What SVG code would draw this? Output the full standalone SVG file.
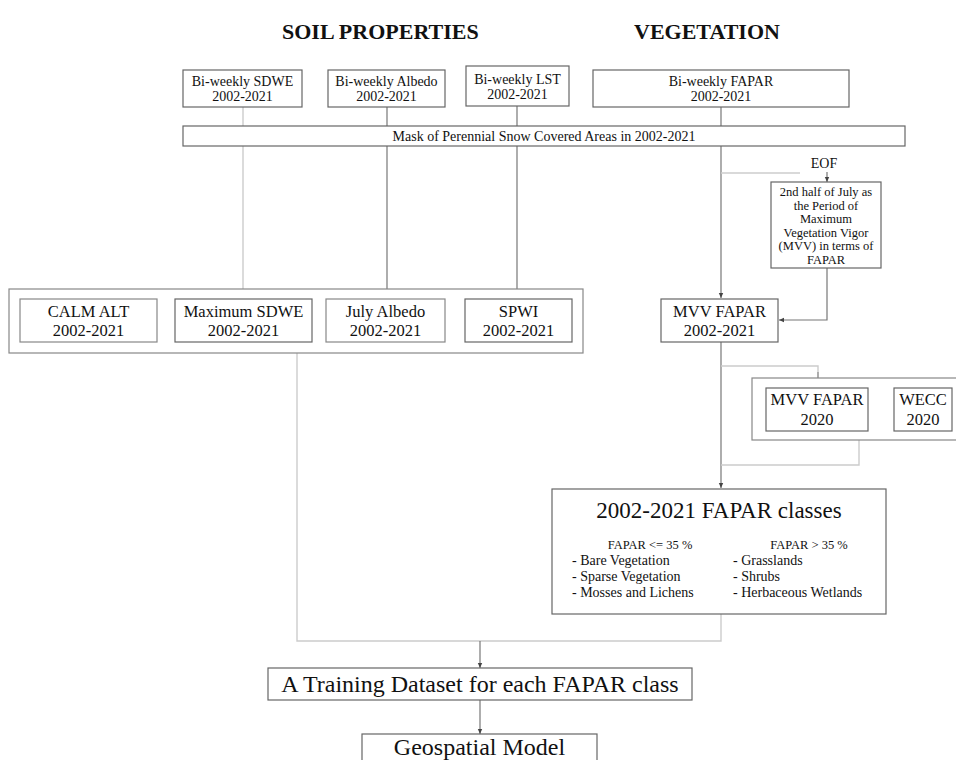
<svg xmlns="http://www.w3.org/2000/svg" width="956" height="760" viewBox="0 0 956 760">
<defs>
<style>
text{font-family:"Liberation Serif","Times New Roman",serif;fill:#111;}
.t{font-size:14px;text-anchor:middle;}
.m{font-size:16.5px;text-anchor:middle;}
.s{font-size:12.5px;text-anchor:middle;}
.h{font-size:22px;font-weight:bold;}
.b{fill:#fff;stroke:#666;stroke-width:1.2;}
.g{fill:#fff;stroke:#888;stroke-width:1.2;}
.d{fill:none;stroke:#777;stroke-width:1.2;}
.l{fill:none;stroke:#ccc;stroke-width:1.4;}
</style>
<marker id="a" markerWidth="6" markerHeight="6" refX="5" refY="3" orient="auto" markerUnits="userSpaceOnUse">
<path d="M0,0.8 L5,3 L0,5.2 Z" fill="#444"/>
</marker>
</defs>
<rect width="956" height="760" fill="#fff"/>
<text class="h" x="282" y="39">SOIL PROPERTIES</text>
<text class="h" x="634" y="39">VEGETATION</text>
<g id="connectors">
<line class="l" x1="243" y1="107" x2="243" y2="126"/>
<line class="d" x1="387" y1="107" x2="387" y2="126"/>
<line class="d" x1="517" y1="106" x2="517" y2="126"/>
<line class="d" x1="721" y1="107" x2="721" y2="126"/>
<line class="l" x1="243" y1="146" x2="243" y2="289"/>
<line class="d" x1="387" y1="146" x2="387" y2="289"/>
<line class="d" x1="517" y1="146" x2="517" y2="289"/>
<line class="d" x1="721" y1="146" x2="721" y2="298" marker-end="url(#a)"/>
<line class="l" x1="721" y1="173" x2="800" y2="173"/>
<line class="d" x1="827" y1="172" x2="827" y2="182" marker-end="url(#a)"/>
<polyline class="d" points="827,268 827,320 779,320" marker-end="url(#a)"/>
<line class="d" x1="721" y1="342" x2="721" y2="488" marker-end="url(#a)"/>
<polyline class="l" points="721,366 818,366 818,372"/>
<line class="d" x1="818" y1="372" x2="818" y2="388" marker-end="url(#a)"/>
<polyline class="l" points="859,440 859,465 721,465"/>
<polyline class="l" points="297,353 297,641 721,641 721,614"/>
<line class="d" x1="480" y1="641" x2="480" y2="668" marker-end="url(#a)"/>
<line class="d" x1="480" y1="700" x2="480" y2="734" marker-end="url(#a)"/>
</g>
<g id="n-sdwe"><rect class="b" x="183" y="70" width="119" height="37"/><text class="t" x="242.5" y="86">Bi-weekly SDWE</text><text class="t" x="242.5" y="101">2002-2021</text></g>
<g id="n-albedo"><rect class="b" x="328" y="70" width="117" height="37"/><text class="t" x="386.5" y="86">Bi-weekly Albedo</text><text class="t" x="386.5" y="101">2002-2021</text></g>
<g id="n-lst"><rect class="b" x="466" y="66" width="103" height="40"/><text class="t" x="517.5" y="84">Bi-weekly LST</text><text class="t" x="517.5" y="99">2002-2021</text></g>
<g id="n-fapar"><rect class="b" x="593" y="70" width="256" height="37"/><text class="t" x="721" y="86">Bi-weekly FAPAR</text><text class="t" x="721" y="101">2002-2021</text></g>
<g id="n-mask"><rect class="b" x="183" y="126" width="722" height="20"/><text class="t" x="544" y="141">Mask of Perennial Snow Covered Areas in 2002-2021</text></g>
<g id="n-soil">
<rect class="g" x="9" y="289" width="574" height="64"/>
<rect class="g" x="20" y="299" width="137" height="43"/><text class="m" x="88.5" y="317">CALM ALT</text><text class="m" x="88.5" y="336">2002-2021</text>
<rect class="b" x="175" y="299" width="137" height="43"/><text class="m" x="243.5" y="317">Maximum SDWE</text><text class="m" x="243.5" y="336">2002-2021</text>
<rect class="g" x="326" y="299" width="119" height="43"/><text class="m" x="385.5" y="317">July Albedo</text><text class="m" x="385.5" y="336">2002-2021</text>
<rect class="b" x="465" y="299" width="107" height="43"/><text class="m" x="518.5" y="317">SPWI</text><text class="m" x="518.5" y="336">2002-2021</text>
</g>
<g id="n-eof"><text class="t" x="824" y="168">EOF</text></g>
<g id="n-july"><rect class="b" x="771" y="182" width="110" height="86"/>
<text class="s" x="826" y="196">2nd half of July as</text>
<text class="s" x="826" y="209.5">the Period of</text>
<text class="s" x="826" y="223">Maximum</text>
<text class="s" x="826" y="236.5">Vegetation Vigor</text>
<text class="s" x="826" y="250">(MVV) in terms of</text>
<text class="s" x="826" y="263.5">FAPAR</text>
</g>
<g id="n-mvv"><rect class="b" x="661" y="299" width="117" height="43"/><text class="m" x="719.5" y="317">MVV FAPAR</text><text class="m" x="719.5" y="336">2002-2021</text></g>
<g id="n-2020">
<rect class="g" x="752" y="378" width="210" height="62"/>
<rect class="b" x="766" y="388" width="102" height="43"/><text class="m" x="817" y="405">MVV FAPAR</text><text class="m" x="817" y="425">2020</text>
<rect class="b" x="894" y="388" width="58" height="43"/><text class="m" x="923" y="405">WECC</text><text class="m" x="923" y="425">2020</text>
</g>
<g id="n-classes"><rect class="b" x="552" y="489" width="334" height="125"/>
<text x="719" y="518" style="font-size:23px;text-anchor:middle">2002-2021 FAPAR classes</text>
<text x="650" y="549" style="font-size:12.5px;text-anchor:middle">FAPAR &lt;= 35 %</text>
<text x="809" y="549" style="font-size:12.5px;text-anchor:middle">FAPAR &gt; 35 %</text>
<text x="572" y="565" style="font-size:14px">- Bare Vegetation</text>
<text x="572" y="581" style="font-size:14px">- Sparse Vegetation</text>
<text x="572" y="597" style="font-size:14px">- Mosses and Lichens</text>
<text x="733" y="565" style="font-size:14px">- Grasslands</text>
<text x="733" y="581" style="font-size:14px">- Shrubs</text>
<text x="733" y="597" style="font-size:14px">- Herbaceous Wetlands</text>
</g>
<g id="n-training"><rect class="b" x="268" y="668" width="424" height="32"/><text x="480" y="692" style="font-size:24px;text-anchor:middle">A Training Dataset for each FAPAR class</text></g>
<g id="n-model"><rect class="b" x="362" y="734" width="235" height="40"/><text x="479.5" y="755" style="font-size:24px;text-anchor:middle">Geospatial Model</text></g>
</svg>
